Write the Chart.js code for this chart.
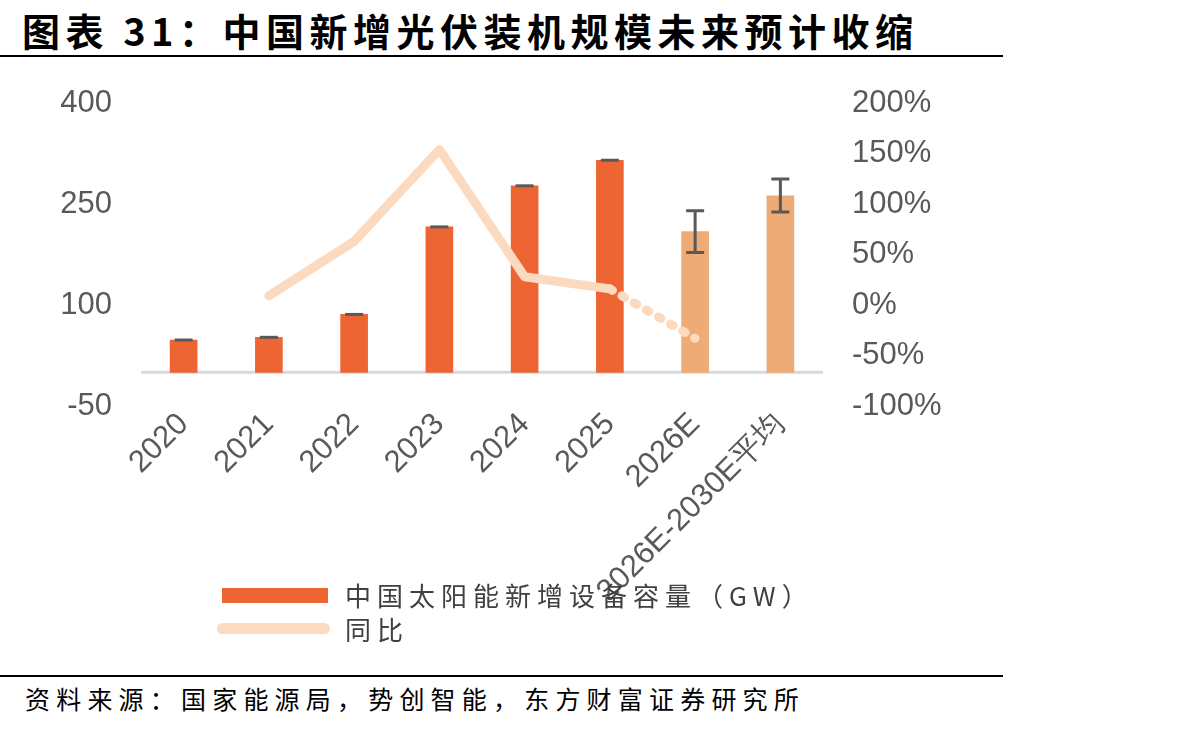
<!DOCTYPE html>
<html>
<head>
<meta charset="utf-8">
<script src="https://cdn.jsdelivr.net/npm/chart.js@4.4.1/dist/chart.umd.min.js"></script>
<style>
  body { margin: 0; background: #fff; width: 1192px; height: 730px; position: relative; overflow: hidden; }
  .title { position: absolute; left: 22px; top: 2px; font: bold 38px "Noto Sans CJK SC"; letter-spacing: 5.5px; color: #000; }
  .rule { position: absolute; left: 0; width: 1003px; height: 2px; background: #000; }
  .wrap { position: absolute; left: 0; top: 0; width: 1192px; height: 600px; }
  .legend { position: absolute; left: 0; top: 0; font: 26px "Noto Sans CJK SC"; color: #404040; letter-spacing: 6px; }
  .lg-row { position: absolute; white-space: nowrap; }
  .source { position: absolute; left: 25px; top: 680px; font: 25px "Noto Sans CJK SC"; letter-spacing: 6.2px; color: #000; }
</style>
</head>
<body>
<div class="title">图表 31：中国新增光伏装机规模未来预计收缩</div>
<div class="rule" style="top:55px"></div>
<div class="wrap"><canvas id="pv" width="1192" height="600"></canvas></div>

<div class="legend">
  <div style="position:absolute;left:222px;top:588px;width:106px;height:15px;background:#ED6532"></div>
  <div class="lg-row" style="left:345px;top:576px">中国太阳能新增设备容量（GW）</div>
  <div style="position:absolute;left:217px;top:623px;width:113px;height:11px;border-radius:6px;background:#FBDAC0"></div>
  <div class="lg-row" style="left:345px;top:610px">同比</div>
</div>

<div class="rule" style="top:675px"></div>
<div class="source">资料来源：国家能源局，势创智能，东方财富证券研究所</div>

<script>
const categories = ['2020', '2021', '2022', '2023', '2024', '2025', '2026E', '2026E-2030E平均'];
const capacity = [48, 52, 86, 216, 277, 315, 209, 262];
const errLow = [48, 52, 86, 216, 277, 315, 178, 238];
const errHigh = [48, 52, 86, 216, 277, 315, 240, 287];
const yoy = [null, 9, 63, 154, 28, 16, -33, null];

const leftTicks = [-50, 100, 250, 400];
const rightTicks = [-100, -50, 0, 50, 100, 150, 200];

const barColors = categories.map((c, i) => i < 6 ? '#ED6532' : '#EFAB76');

// zero line and error bars
const extras = {
  id: 'extras',
  beforeDatasetsDraw(chart) {
    const { ctx, chartArea, scales } = chart;
    const y0 = scales.y.getPixelForValue(0);
    ctx.save();
    ctx.strokeStyle = '#D9D9D9';
    ctx.lineWidth = 3;
    ctx.beginPath();
    ctx.moveTo(chartArea.left, y0);
    ctx.lineTo(chartArea.right, y0);
    ctx.stroke();
    ctx.restore();
  },
  afterDatasetsDraw(chart) {
    const { ctx, scales } = chart;
    ctx.save();
    ctx.strokeStyle = '#595959';
    ctx.lineWidth = 3;
    categories.forEach((c, i) => {
      const x = scales.x.getPixelForValue(i);
      const yl = scales.y.getPixelForValue(errLow[i]);
      const yh = scales.y.getPixelForValue(errHigh[i]);
      const half = 9;
      ctx.beginPath();
      if (yl !== yh) {
        ctx.moveTo(x, yl); ctx.lineTo(x, yh);
        ctx.moveTo(x - half, yl); ctx.lineTo(x + half, yl);
      }
      ctx.moveTo(x - half, yh); ctx.lineTo(x + half, yh);
      ctx.stroke();
    });
    ctx.restore();
  }
};

Chart.defaults.font.family = '"Liberation Sans", Arial, sans-serif';
Chart.defaults.color = '#595959';

new Chart(document.getElementById('pv'), {
  type: 'bar',
  data: {
    labels: categories,
    datasets: [
      {
        type: 'line',
        label: '同比',
        data: yoy,
        yAxisID: 'y1',
        borderColor: '#FBDAC0',
        borderWidth: 9,
        borderCapStyle: 'round',
        borderJoinStyle: 'round',
        pointRadius: 0,
        tension: 0,
        spanGaps: false,
        order: 0,
        segment: {
          borderDash: ctx => ctx.p0DataIndex === 5 ? [3, 11] : undefined
        }
      },
      {
        label: '中国太阳能新增设备容量（GW）',
        data: capacity,
        yAxisID: 'y',
        backgroundColor: barColors,
        barThickness: 27,
        order: 1
      }
    ]
  },
  options: {
    responsive: false,
    animation: false,
    devicePixelRatio: 1,
    layout: { padding: { top: 103, left: 0, right: 0, bottom: 0 } },
    scales: {
      x: {
        grid: { display: false, drawTicks: false },
        border: { display: false },
        ticks: {
          font: { size: 31 },
          minRotation: 45,
          maxRotation: 45,
          padding: 0,
          autoSkip: false
        },
        afterFit: s => { s.height = 194; }
      },
      y: {
        position: 'left',
        min: -50,
        max: 400,
        afterBuildTicks: s => { s.ticks = leftTicks.map(v => ({ value: v })); },
        grid: { display: false, drawTicks: false },
        border: { display: false },
        ticks: { font: { size: 31 }, padding: 29 },
        afterFit: s => { s.width = 141; }
      },
      y1: {
        position: 'right',
        min: -100,
        max: 200,
        afterBuildTicks: s => { s.ticks = rightTicks.map(v => ({ value: v })); },
        grid: { display: false, drawTicks: false },
        border: { display: false },
        ticks: { font: { size: 31 }, padding: 29, callback: v => v + '%' },
        afterFit: s => { s.width = 369; }
      }
    },
    plugins: {
      legend: { display: false },
      tooltip: { enabled: false }
    }
  },
  plugins: [extras]
});
</script>
</body>
</html>
